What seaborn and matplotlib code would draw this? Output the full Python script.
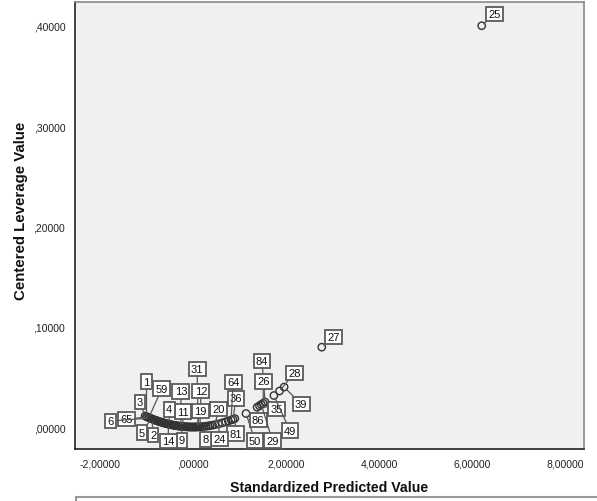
import matplotlib
matplotlib.use("Agg")
import matplotlib.pyplot as plt
import matplotlib.patches as mpatches
import seaborn as sns
import pandas as pd

# ---- data ----
pred_values = [-1.03, -1.00, -0.98, -0.95, -0.93, -0.90, -0.88, -0.85, -0.83, -0.80,
               -0.78, -0.76, -0.73, -0.71, -0.68, -0.66, -0.63, -0.61, -0.58, -0.56,
               -0.53, -0.51, -0.49, -0.46, -0.44, -0.41, -0.39, -0.36, -0.34, -0.31,
               -0.29, -0.26, -0.24, -0.22, -0.19, -0.17, -0.14, -0.12, -0.09, -0.07,
               -0.04, -0.02, 0.01, 0.03, 0.06, 0.08, 0.11, 0.15, 0.19, 0.24,
               0.28, 0.33, 0.37, 0.42, 0.47, 0.55, 0.63, 0.70, 0.76, 0.82,
               0.86, 0.90, 1.14, 1.38, 1.43, 1.47, 1.51, 1.55, 1.74, 1.86,
               1.96, 2.77, 6.21]
leverage = [0.01101, 0.01037, 0.00996, 0.00936, 0.00897, 0.00840, 0.00803, 0.00749, 0.00715, 0.00664,
            0.00631, 0.00599, 0.00553, 0.00523, 0.00480, 0.00452, 0.00412, 0.00386, 0.00349, 0.00325,
            0.00291, 0.00270, 0.00249, 0.00220, 0.00201, 0.00174, 0.00158, 0.00134, 0.00120, 0.00100,
            0.00087, 0.00070, 0.00060, 0.00050, 0.00037, 0.00030, 0.00020, 0.00015, 0.00008, 0.00005,
            0.00002, 0.00000, 0.00000, 0.00001, 0.00004, 0.00007, 0.00013, 0.00023, 0.00037, 0.00060,
            0.00081, 0.00113, 0.00142, 0.00183, 0.00229, 0.00314, 0.00412, 0.00508, 0.00599, 0.00698,
            0.00767, 0.00840, 0.01348, 0.01976, 0.02121, 0.02242, 0.02365, 0.02492, 0.03141, 0.03589,
            0.03985, 0.07960, 0.40004]

# case labels: (case id, predicted value of the labelled point)
case_ids = ["25", "27", "28", "39", "84", "26", "35", "86", "49", "29", "50",
            "81", "36", "64", "31", "12", "19", "20", "24", "8", "13", "11",
            "9", "14", "4", "59", "1", "3", "65", "6", "5", "2"]
case_pred = [6.21, 2.77, 1.86, 1.96, 1.55, 1.51, 1.43, 1.38, 1.74, 1.47, 1.14,
             0.90, 0.86, 0.82, 0.11, 0.15, 0.08, 0.47, 0.55, 0.24, -0.26, -0.22,
             -0.24, -0.53, -0.51, -0.95, -1.00, -1.03, -0.98, -0.93, -0.90, -0.88]

x_ticks = [-2, 0, 2, 4, 6, 8]
x_tick_labels = ["-2,00000", ",00000", "2,00000", "4,00000", "6,00000", "8,00000"]
y_ticks = [0.0, 0.1, 0.2, 0.3, 0.4]
y_tick_labels = [",00000", ",10000", ",20000", ",30000", ",40000"]

# label box offsets in pixels (dx right, dy up)
label_offsets = {
    "25": (13, 12), "27": (12, 10), "28": (15, 18), "39": (17, -17),
    "84": (-3, 41), "26": (0, 22), "35": (17, -3), "86": (1, -13),
    "49": (16, -35), "29": (11, -36), "50": (9, -27), "81": (1, -15),
    "36": (3, 21), "64": (2, 38), "31": (-1, 58), "12": (1, 36),
    "19": (4, 16), "20": (4, 16), "24": (1, -15), "8": (1, -13),
    "13": (0, 35), "11": (0, 15), "9": (0, -14), "14": (0, -17),
    "4": (0, 15), "59": (13, 29), "1": (0, 35), "3": (-5, 14),
    "65": (-21, -2), "6": (-39, -3), "5": (-9, -14), "2": (1, -16),
}

df = pd.DataFrame({"pred": pred_values, "lev": leverage})
lev_by_pred = dict(zip(pred_values, leverage))

sns.set_style("white")
plt.rcParams["font.family"] = ["Liberation Sans", "DejaVu Sans"]

fig = plt.figure(figsize=(5.97, 5.02), dpi=100)
ax = fig.add_axes([75 / 597, 52 / 502, 509 / 597, 447 / 502])
ax.set_facecolor("#F0F0F0")

sns.scatterplot(data=df, x="pred", y="lev", ax=ax, marker="o", s=28,
                facecolor="none", edgecolor="#333333", linewidth=1.0, zorder=3)

for cid, p in zip(case_ids, case_pred):
    dx, dy = label_offsets[cid]
    ax.annotate(cid, xy=(p, lev_by_pred[p]), xytext=(dx, dy),
                textcoords="offset pixels", ha="center", va="center",
                fontsize=8, color="#111111", zorder=5,
                bbox=dict(boxstyle="square,pad=0.2", fc="white", ec="#5a5a5a", lw=1.3),
                arrowprops=dict(arrowstyle="-", color="#555555", lw=0.9,
                                shrinkA=0, shrinkB=2))

ax.set_xlim(-2.538, 8.41)
ax.set_ylim(-0.0219, 0.4237)
ax.set_xticks(x_ticks)
ax.set_xticklabels(x_tick_labels)
ax.set_yticks(y_ticks)
ax.set_yticklabels(y_tick_labels)
ax.tick_params(axis="both", direction="out", length=5, width=1.5, color="#222222",
               labelsize=7.5, labelcolor="#222222", pad=2)

for side in ["left", "bottom"]:
    ax.spines[side].set_color("#222222")
    ax.spines[side].set_linewidth(1.2)
for side in ["top", "right"]:
    ax.spines[side].set_color("#888888")
    ax.spines[side].set_linewidth(1.2)

ax.set_xlabel("Standardized Predicted Value", fontsize=10.2, fontweight="bold",
              color="#111111", labelpad=8)
ax.set_ylabel("Centered Leverage Value", fontsize=10.8, fontweight="bold",
              color="#111111")
ax.yaxis.set_label_coords(-0.092, 0.535)

# cut-off box at the bottom edge
fig.patches.append(mpatches.Rectangle((76 / 597, -0.05), 0.99, 0.05 + 4 / 502,
                                      transform=fig.transFigure, fc="white",
                                      ec="#999999", lw=1.5))

fig.savefig("out.png", dpi=100)
